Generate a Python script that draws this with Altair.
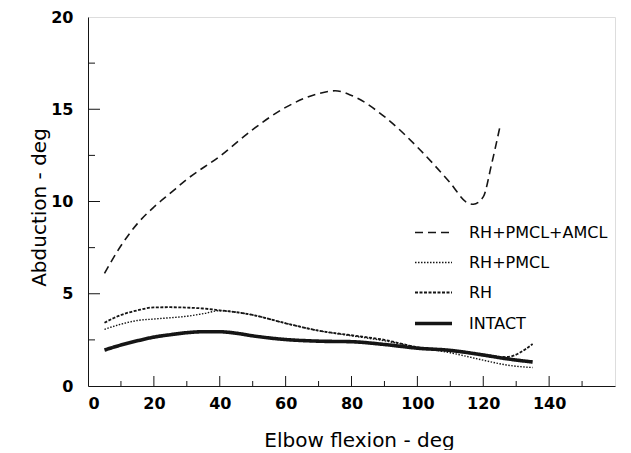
import altair as alt
import pandas as pd

# --- data ---
series_order = ["RH+PMCL+AMCL", "RH+PMCL", "RH", "INTACT"]

amcl_x = [5, 10, 15, 20, 25, 30, 40, 50, 60, 70, 75, 80, 90, 100, 110, 115, 117, 120, 122.5, 125]
amcl_y = [6.1, 7.6, 8.8, 9.7, 10.45, 11.2, 12.45, 13.9, 15.1, 15.85, 16.0, 15.75, 14.6, 12.95, 11.0, 9.95, 9.85, 10.25, 12.0, 14.0]

pmcl_x = [5, 10, 15, 20, 25, 30, 35, 40, 45, 50, 60, 70, 80, 90, 100, 110, 120, 127, 135]
pmcl_y = [3.07, 3.35, 3.55, 3.63, 3.7, 3.78, 3.92, 4.08, 4.0, 3.85, 3.4, 3.0, 2.72, 2.45, 2.1, 1.8, 1.4, 1.14, 1.0]

rh_x = [5, 10, 15, 20, 25, 30, 35, 40, 45, 50, 60, 70, 80, 90, 100, 110, 120, 127, 135]
rh_y = [3.43, 3.85, 4.1, 4.26, 4.27, 4.25, 4.2, 4.1, 4.0, 3.85, 3.4, 3.0, 2.75, 2.5, 2.1, 1.92, 1.7, 1.57, 2.28]

intact_x = [5, 10, 15, 20, 25, 30, 35, 40, 45, 50, 60, 70, 80, 90, 100, 110, 120, 127, 135]
intact_y = [1.95, 2.22, 2.45, 2.65, 2.78, 2.89, 2.94, 2.94, 2.86, 2.72, 2.52, 2.43, 2.4, 2.25, 2.05, 1.93, 1.68, 1.48, 1.3]

x_labels = [0, 20, 40, 60, 80, 100, 120, 140]
y_labels = [0, 5, 10, 15, 20]
x_major = [20, 40, 60, 80, 100, 120, 140]
x_minor = [10, 30, 50, 70, 90, 110, 130, 150]
y_major = [5, 10, 15]
y_minor = [2.5, 7.5, 12.5, 17.5]

rows = []
for name, xs, ys in [("RH+PMCL+AMCL", amcl_x, amcl_y), ("RH+PMCL", pmcl_x, pmcl_y),
                     ("RH", rh_x, rh_y), ("INTACT", intact_x, intact_y)]:
    for a, b in zip(xs, ys):
        rows.append({"series": name, "x": a, "y": b})
df = pd.DataFrame(rows)

W, H = 527, 369
INK = "#151515"
FONT = "DejaVu Sans"

xscale = alt.Scale(domain=[0, 160], nice=False, zero=False)
yscale = alt.Scale(domain=[0, 20], nice=False)

legend_opts = dict(title=None, orient="none", legendX=325, legendY=196,
                   symbolType="stroke", symbolSize=1369, symbolStrokeColor=INK,
                   labelFont=FONT, labelFontSize=16, labelColor="black",
                   labelOffset=15, rowPadding=2)

lines = alt.Chart(df).mark_line(interpolate="monotone", color=INK).encode(
    x=alt.X("x:Q", scale=xscale,
            axis=alt.Axis(values=x_labels, ticks=False, grid=False, domainColor=INK,
                          labelFont=FONT, labelFontSize=16, labelFontWeight="bold",
                          labelColor="black", labelPadding=9,
                          title="Elbow flexion - deg", titleFont=FONT, titleFontSize=20,
                          titleFontWeight="normal", titleColor="black",
                          titleX=271, titleY=54, titleBaseline="middle")),
    y=alt.Y("y:Q", scale=yscale,
            axis=alt.Axis(values=y_labels, ticks=False, grid=False, domainColor=INK,
                          labelFont=FONT, labelFontSize=16, labelFontWeight="bold",
                          labelColor="black", labelPadding=15,
                          title="Abduction - deg", titleFont=FONT, titleFontSize=20,
                          titleFontWeight="normal", titleColor="black",
                          titleX=-49, titleY=190, titleBaseline="middle", titleAngle=270)),
    strokeDash=alt.StrokeDash("series:N",
                              scale=alt.Scale(domain=series_order,
                                              range=[[8, 5], [1.5, 1.5], [3, 1.5], [1, 0]]),
                              legend=alt.Legend(**legend_opts)),
    strokeWidth=alt.StrokeWidth("series:N",
                                scale=alt.Scale(type="ordinal", domain=series_order,
                                                range=[1.6, 1.4, 1.8, 3.6]),
                                legend=alt.Legend(**legend_opts)),
    order=alt.Order("x:Q"),
)

xmaj = alt.Chart(pd.DataFrame({"v": x_major})).mark_rule(color=INK, strokeWidth=1).encode(
    x=alt.X("v:Q", scale=xscale), y=alt.value(H), y2=alt.value(H - 10))
xmin = alt.Chart(pd.DataFrame({"v": x_minor})).mark_rule(color=INK, strokeWidth=1).encode(
    x=alt.X("v:Q", scale=xscale), y=alt.value(H), y2=alt.value(H - 5))
ymaj = alt.Chart(pd.DataFrame({"v": y_major})).mark_rule(color=INK, strokeWidth=1).encode(
    y=alt.Y("v:Q", scale=yscale), x=alt.value(0), x2=alt.value(12))
ymin = alt.Chart(pd.DataFrame({"v": y_minor})).mark_rule(color=INK, strokeWidth=1).encode(
    y=alt.Y("v:Q", scale=yscale), x=alt.value(0), x2=alt.value(7))

chart = alt.layer(xmaj, xmin, ymaj, ymin, lines).properties(
    width=W, height=H,
    autosize=alt.AutoSizeParams(type="none"),
    padding={"left": 80, "top": 9, "right": 8, "bottom": 64},
).configure_view(stroke=INK, strokeWidth=1).configure(background="white")

chart.save("out.html", embed_options={"renderer": "svg", "actions": False})
